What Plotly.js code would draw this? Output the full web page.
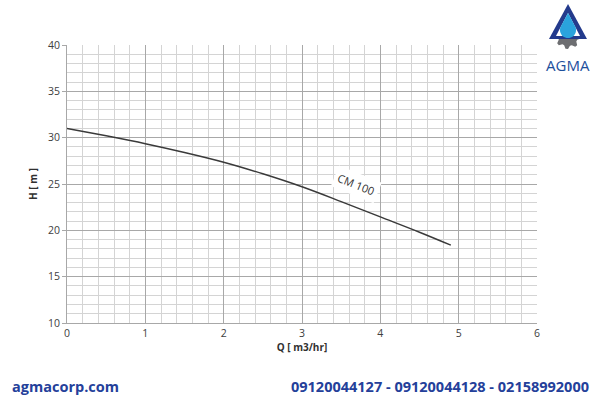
<!DOCTYPE html>
<html>
<head>
<meta charset="utf-8">
<script src="https://cdn.plot.ly/plotly-3.0.1.min.js"></script>
<style>html,body{margin:0;padding:0;background:#fff;}#chart{width:600px;height:400px;}</style>
</head>
<body>
<div id="chart"></div>
<script>
// Data
var flowQ = [0, 0.5, 1, 1.5, 2, 2.5, 3, 3.5, 4, 4.5, 4.9];
var headH = [31.0, 30.2, 29.35, 28.4, 27.35, 26.1, 24.7, 23.1, 21.45, 19.8, 18.4];
var curveName = "CM 100";
var xTickVals = [0, 1, 2, 3, 4, 5, 6];
var yTickVals = [10, 15, 20, 25, 30, 35, 40];

var L = 67, R = 537, T = 45, B = 323;
function px(x){ return (x - L) / (R - L); }
function py(y){ return (B - y) / (B - T); }
function path(pts){
  return pts.map(function(p,i){ return (i? 'L':'M') + px(p[0]).toFixed(4) + ',' + py(p[1]).toFixed(4); }).join(' ') + ' Z';
}
function gearPath(cx, cy, r1, r2, n){
  var pts = [];
  for (var i = 0; i < n*4; i++){
    var a = Math.PI * 2 * i / (n*4);
    var r = (Math.floor(i/2) % 2 === 0) ? r2 : r1;
    pts.push([cx + r*Math.cos(a), cy + r*Math.sin(a)]);
  }
  return path(pts);
}
function dropPath(cx, cy, r, topY){
  var pts = [];
  for (var i = 0; i <= 24; i++){
    var a = -Math.PI/6 + (Math.PI*4/3) * i / 24;
    pts.push([cx + r*Math.cos(a), cy + r*Math.sin(a)]);
  }
  pts.push([cx, topY]);
  return path(pts);
}

var blue = '#24409a';
var trace = {
  x: flowQ, y: headH, type: 'scatter', mode: 'lines',
  line: {color: '#3a3a3a', width: 1.5, shape: 'spline'},
  hoverinfo: 'skip', showlegend: false
};

var layout = {
  width: 600, height: 400,
  margin: {l: L, r: 600 - R, t: T, b: 400 - B},
  paper_bgcolor: '#fff', plot_bgcolor: '#fff',
  font: {family: 'Open Sans, sans-serif', color: '#404040', size: 10},
  showlegend: false,
  xaxis: {
    range: [0, 6], tickvals: xTickVals, ticktext: xTickVals.map(String),
    showgrid: true, gridcolor: '#a8a8a8', gridwidth: 1,
    minor: {dtick: 0.2, showgrid: true, gridcolor: '#d4d4d4', gridwidth: 1},
    zeroline: false, showline: true, linecolor: '#a8a8a8', linewidth: 1,
    ticks: '', tickfont: {size: 10.5, color: '#404040'},
    title: {text: '<b>Q [ m3/hr]</b>', font: {size: 10, color: '#303030'}, standoff: 4},
    fixedrange: true
  },
  yaxis: {
    range: [10, 40], tickvals: yTickVals, ticktext: yTickVals.map(String),
    showgrid: true, gridcolor: '#a8a8a8', gridwidth: 1,
    minor: {dtick: 1, showgrid: true, gridcolor: '#d4d4d4', gridwidth: 1},
    zeroline: false, showline: true, linecolor: '#a8a8a8', linewidth: 1,
    ticks: 'outside', ticklen: 4, tickcolor: '#a8a8a8', tickfont: {size: 10.5, color: '#404040'},
    title: {text: '<b>H [ m ]</b>', font: {size: 10, color: '#303030'}, standoff: 8},
    fixedrange: true
  },
  annotations: [
    {x: 3.7, y: 25.0, xref: 'x', yref: 'y', text: curveName, showarrow: false,
     textangle: 22, bgcolor: '#ffffff', borderpad: 3,
     font: {family: 'Open Sans, sans-serif', size: 11, color: '#303030'}},
    {x: px(10), y: py(386), xref: 'paper', yref: 'paper', xanchor: 'left', yanchor: 'middle',
     text: '<b>agmacorp.com</b>', showarrow: false,
     font: {family: 'Open Sans, sans-serif', size: 14.5, color: blue}},
    {x: px(591), y: py(386), xref: 'paper', yref: 'paper', xanchor: 'right', yanchor: 'middle',
     text: '<b>09120044127 - 09120044128 - 02158992000</b>', showarrow: false,
     font: {family: 'Open Sans, sans-serif', size: 14.5, color: blue}},
    {x: px(568), y: py(65), xref: 'paper', yref: 'paper', xanchor: 'center', yanchor: 'middle',
     text: 'AGMA', showarrow: false,
     font: {family: 'Open Sans, sans-serif', size: 15, color: '#1d4f9c'}}
  ],
  shapes: [
    {type: 'path', xref: 'paper', yref: 'paper', layer: 'above',
     path: gearPath(568, 36, 10, 13, 8), fillcolor: '#6d6e71', line: {width: 0}},
    {type: 'path', xref: 'paper', yref: 'paper', layer: 'above',
     path: path([[568,4],[549,39],[587,39]]), fillcolor: '#233a8c', line: {width: 0}},
    {type: 'path', xref: 'paper', yref: 'paper', layer: 'above',
     path: path([[568,13],[556,36],[580,36]]), fillcolor: '#ffffff', line: {width: 0}},
    {type: 'path', xref: 'paper', yref: 'paper', layer: 'above',
     path: dropPath(568, 30, 8, 13), fillcolor: '#2aa3dd', line: {width: 0}}
  ]
};

Plotly.newPlot('chart', [trace], layout, {staticPlot: true, displayModeBar: false});
</script>
</body>
</html>
